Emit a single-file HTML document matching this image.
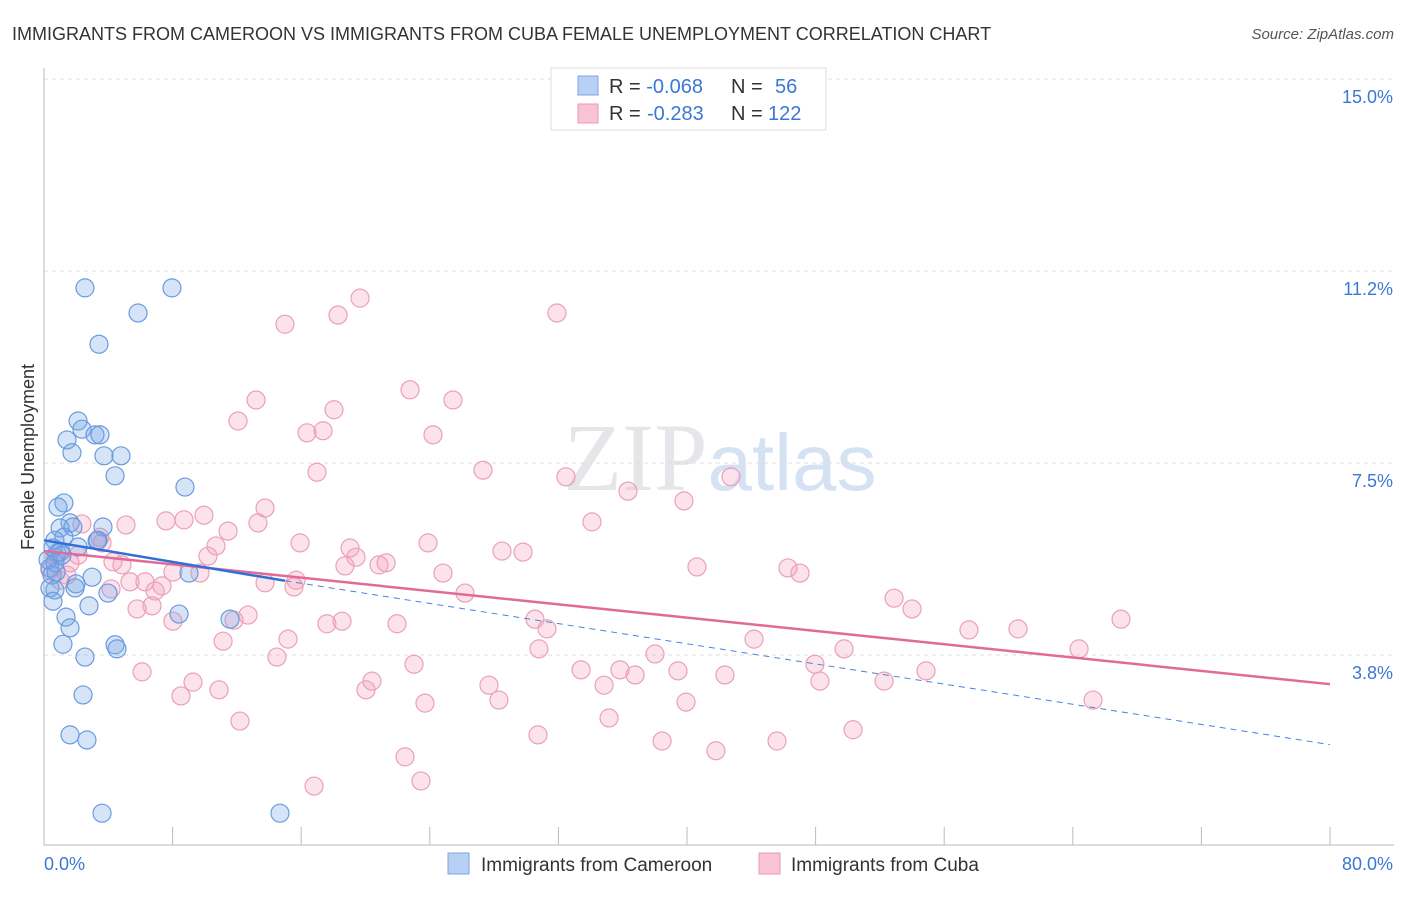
<!DOCTYPE html>
<html><head><meta charset="utf-8"><style>
body{margin:0;background:#fff;font-family:"Liberation Sans",sans-serif;}
svg text{font-family:"Liberation Sans",sans-serif;}
</style></head><body>
<svg width="1406" height="892" id="chart">
<text x="12" y="40" font-size="18" fill="#333">IMMIGRANTS FROM CAMEROON VS IMMIGRANTS FROM CUBA FEMALE UNEMPLOYMENT CORRELATION CHART</text>
<text x="1394" y="39" font-size="15" fill="#555" font-style="italic" text-anchor="end">Source: ZipAtlas.com</text>
<text x="720" y="490" font-size="96" fill="#e4e6ea" text-anchor="middle" font-family="Liberation Serif"><tspan font-family="Liberation Serif">ZIP</tspan><tspan fill="#d4e2f4" font-family="Liberation Sans" font-size="80">atlas</tspan></text>
<text x="34" y="457" font-size="18" fill="#333" text-anchor="middle" transform="rotate(-90 34 457)">Female Unemployment</text>
<g id="grid"></g><g id="pts"></g><g id="lines"></g>
<rect x="551" y="68" width="275" height="62" fill="#fff" stroke="#ddd"/>
<rect x="578" y="76" width="20" height="19" fill="#b8d0f4" stroke="#7ea6e0"/>
<rect x="578" y="104" width="20" height="19" fill="#f8c4d4" stroke="#e89ab5"/>
<text x="609" y="93" font-size="20" fill="#333">R = <tspan fill="#3a78d4">-0.068</tspan><tspan x="731">N = </tspan><tspan x="775" fill="#3a78d4">56</tspan></text>
<text x="609" y="120" font-size="20" fill="#333">R = <tspan x="647" fill="#3a78d4">-0.283</tspan><tspan x="731">N = </tspan><tspan x="768" fill="#3a78d4">122</tspan></text>
<rect x="448" y="853" width="21" height="21" fill="#b8d0f4" stroke="#7ea6e0"/>
<text x="481" y="871" font-size="19" fill="#333">Immigrants from Cameroon</text>
<rect x="759" y="853" width="21" height="21" fill="#f8c4d4" stroke="#e89ab5"/>
<text x="791" y="871" font-size="19" fill="#333">Immigrants from Cuba</text>
</svg>
<script>
const yTicks=[15,11.25,7.5,3.75];
const yTickLabels=["15.0%","11.2%","7.5%","3.8%"];
const xTicks=[0,8,16,24,32,40,48,56,64,72,80];
const xTickLabels=["0.0%","80.0%"];
const blueX=[2.55,7.96,5.85,3.42,2.12,2.36,1.43,3.17,3.48,1.74,3.73,4.79,4.42,8.77,1.24,0.87,1.62,1.0,1.8,3.67,1.24,3.30,0.68,2.12,0.81,1.12,0.68,0.37,0.5,2.99,1.99,1.93,0.37,0.68,0.56,3.98,2.80,1.37,8.40,11.57,1.62,4.42,4.54,1.18,2.55,2.43,1.62,2.67,3.61,14.68,9.02,0.25,0.56,0.75,3.36,1.0];
const blueY=[10.92,10.92,10.43,9.82,8.32,8.16,7.95,8.05,8.05,7.70,7.64,7.64,7.25,7.03,6.72,6.64,6.33,6.23,6.25,6.25,6.05,5.98,5.99,5.86,5.74,5.70,5.55,5.45,5.31,5.27,5.14,5.06,5.06,5.02,4.80,4.96,4.71,4.49,4.55,4.45,4.28,3.95,3.87,3.96,3.71,2.97,2.19,2.09,0.66,0.66,5.35,5.61,5.84,5.37,5.99,5.76];
const pinkX=[19.66,14.99,18.29,31.91,22.77,13.19,25.44,18.04,12.07,16.36,17.36,24.20,16.98,27.31,32.47,42.74,36.33,39.81,13.75,9.95,7.59,8.71,11.45,13.31,5.10,2.36,3.48,34.09,15.93,23.89,28.49,29.80,19.04,10.70,19.41,3.61,4.29,4.85,10.20,18.72,21.28,20.84,40.62,46.28,47.03,24.82,8.02,9.70,15.68,13.75,5.35,6.28,7.34,15.55,6.91,4.17,26.19,1.00,1.43,1.62,2.12,0.68,0.37,52.88,54.00,67.00,30.54,5.79,6.72,12.69,11.82,8.02,17.60,18.54,21.96,31.29,57.54,60.59,44.17,11.14,15.18,30.79,38.01,49.77,64.39,23.02,14.49,6.10,33.41,35.83,39.44,42.36,47.96,36.77,54.87,52.26,48.27,9.27,20.40,27.68,34.84,10.89,8.52,20.03,23.70,28.30,39.94,65.26,35.15,12.19,30.73,50.33,38.45,41.80,45.60,22.46,23.45,16.80];
const pinkY=[10.72,10.21,10.39,10.43,8.93,8.73,8.73,8.54,8.32,8.09,8.13,8.05,7.32,7.36,7.23,7.23,6.95,6.76,6.62,6.48,6.37,6.39,6.17,6.33,6.29,6.31,6.05,6.35,5.94,5.94,5.78,5.76,5.84,5.88,5.66,5.94,5.57,5.51,5.68,5.49,5.55,5.51,5.47,5.45,5.35,5.35,5.37,5.35,5.21,5.16,5.18,5.18,5.10,5.08,5.00,5.04,4.96,5.21,5.31,5.55,5.70,5.66,5.41,4.86,4.65,4.45,4.45,4.65,4.71,4.53,4.43,4.41,4.36,4.41,4.36,4.26,4.24,4.26,4.06,4.02,4.06,3.87,3.77,3.87,3.87,3.57,3.71,3.42,3.46,3.46,3.44,3.36,3.57,3.36,3.44,3.24,3.24,3.22,3.24,3.16,3.16,3.07,2.95,3.07,2.81,2.87,2.83,2.87,2.52,2.46,2.19,2.29,2.07,1.88,2.07,1.76,1.29,1.19];
const blueTrend=[[0,5.99],[15,5.2],[80,2.0]];
const pinkTrend=[[0,5.78],[80,3.18]];
const NS="http://www.w3.org/2000/svg";
const xs=v=>44+v*(1286/80);
const ys=v=>79+(15-v)*51.2;
function mk(tag,attrs,parent){const e=document.createElementNS(NS,tag);for(const k in attrs)e.setAttribute(k,attrs[k]);document.getElementById(parent).appendChild(e);return e;}
yTicks.forEach((t,i)=>{
 const l=mk('line',{x1:44,x2:1394,y1:ys(t),y2:ys(t),stroke:'#ddd','stroke-dasharray':'4,4'},'grid');
 
 
 const tx=mk('text',{x:1393,y:ys(t)+24,'font-size':18,fill:'#3a78d4','text-anchor':'end'},'grid');
 tx.textContent=yTickLabels[i];
 
 
});
const ax=mk('line',{x1:44,x2:44,y1:68,y2:845,stroke:'#bbb'},'grid');


const bx=mk('line',{x1:44,x2:1394,y1:845,y2:845,stroke:'#bbb'},'grid');


xTicks.forEach(t=>{
 const l=mk('line',{x1:xs(t),x2:xs(t),y1:827,y2:845,stroke:'#bbb'},'grid');
 
 
});
const xl0=mk('text',{x:44,y:870,'font-size':18,fill:'#3a78d4'},'grid');xl0.textContent=xTickLabels[0];


const xl1=mk('text',{x:1393,y:870,'font-size':18,fill:'#3a78d4','text-anchor':'end'},'grid');xl1.textContent=xTickLabels[1];


pinkX.forEach((x,i)=>{
 const c=mk('circle',{cx:xs(x),cy:ys(pinkY[i]),r:9,fill:'rgba(244,160,188,0.3)',stroke:'#eaa0ba','stroke-width':1.2},'pts');
 
 
});
blueX.forEach((x,i)=>{
 const c=mk('circle',{cx:xs(x),cy:ys(blueY[i]),r:9,fill:'rgba(120,165,230,0.3)',stroke:'#6a9be0','stroke-width':1.2},'pts');
 
 
});
const p=mk('line',{x1:xs(pinkTrend[0][0]),y1:ys(pinkTrend[0][1]),x2:xs(pinkTrend[1][0]),y2:ys(pinkTrend[1][1]),stroke:'#e26a97','stroke-width':2.5},'lines');


const b1=mk('line',{x1:xs(blueTrend[0][0]),y1:ys(blueTrend[0][1]),x2:xs(blueTrend[1][0]),y2:ys(blueTrend[1][1]),stroke:'#2f6fd6','stroke-width':2.5},'lines');


const b2=mk('line',{x1:xs(blueTrend[1][0]),y1:ys(blueTrend[1][1]),x2:xs(blueTrend[2][0]),y2:ys(blueTrend[2][1]),stroke:'#4a82dc','stroke-width':1,'stroke-dasharray':'6,5'},'lines');


</script>
</body></html>
